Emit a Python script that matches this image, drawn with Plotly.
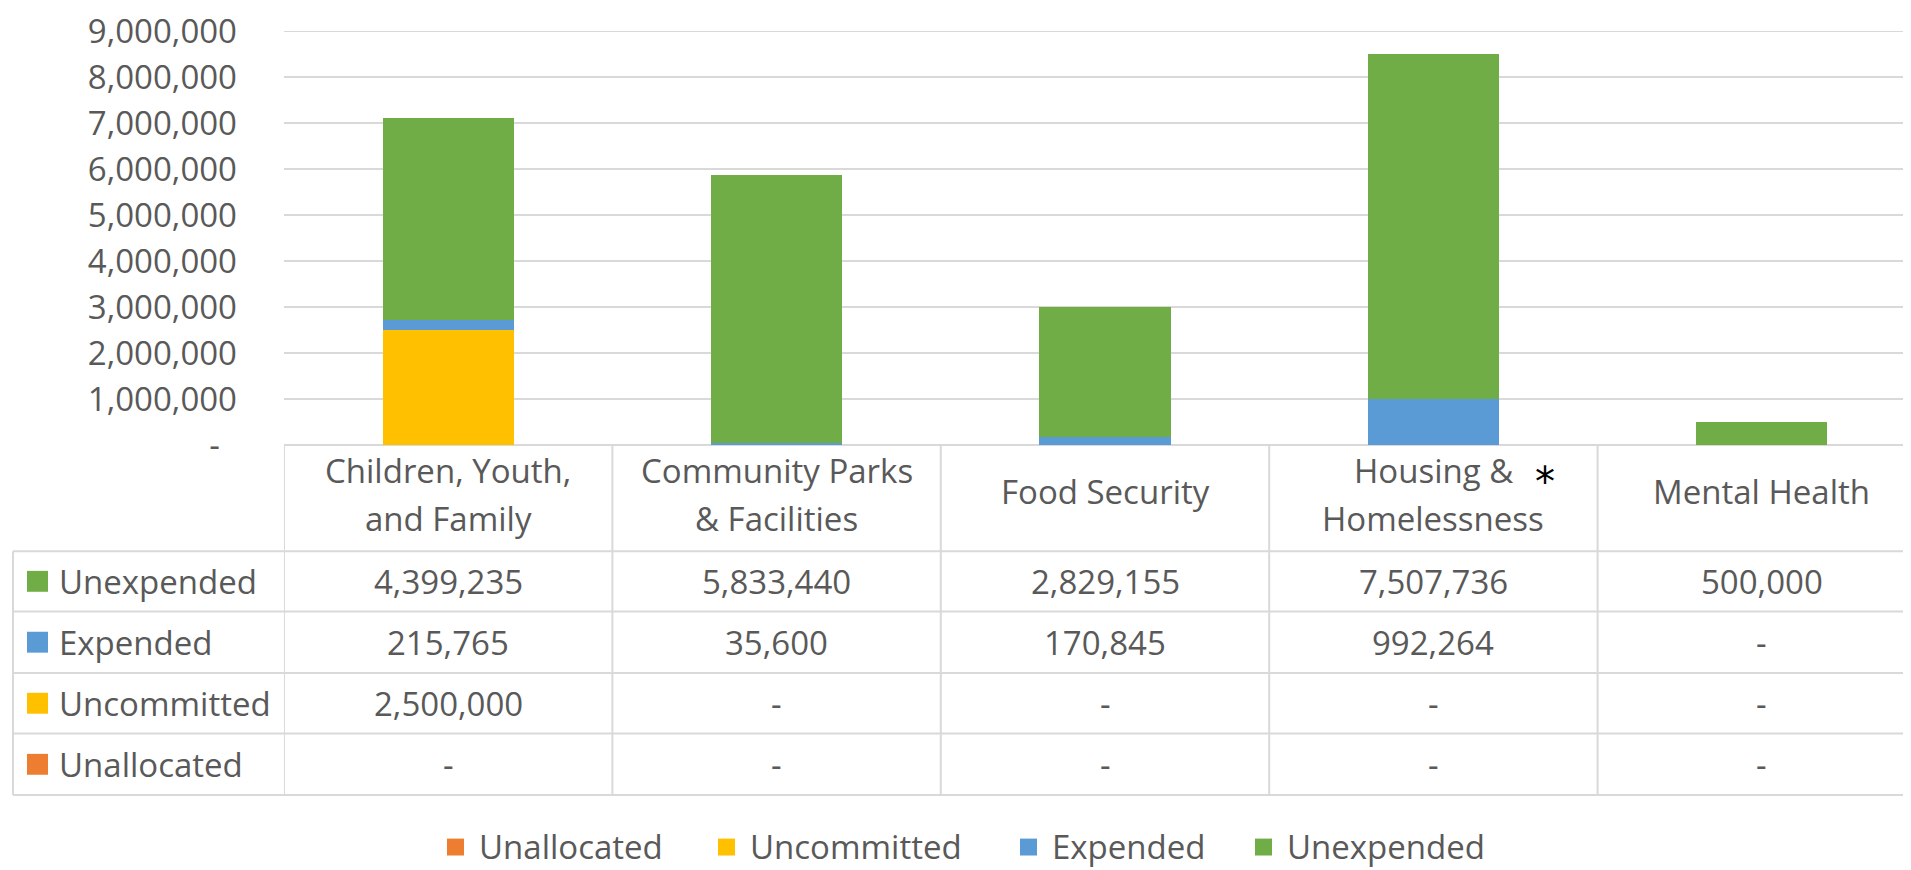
import plotly.graph_objects as go

# ---------------- data ----------------
categories = ["Children, Youth,<br>and Family", "Community Parks<br>& Facilities",
              "Food Security", "Housing &<br>Homelessness", "Mental Health"]
series_names = ["Unallocated", "Uncommitted", "Expended", "Unexpended"]
unallocated = [0, 0, 0, 0, 0]
uncommitted = [2500000, 0, 0, 0, 0]
expended = [215765, 35600, 170845, 992264, 0]
unexpended = [4399235, 5833440, 2829155, 7507736, 500000]
y_tickvals = [0, 1000000, 2000000, 3000000, 4000000, 5000000, 6000000, 7000000, 8000000, 9000000]
y_ticktext = ["-\u00a0\u00a0", "1,000,000", "2,000,000", "3,000,000", "4,000,000",
              "5,000,000", "6,000,000", "7,000,000", "8,000,000", "9,000,000"]

series_values = [unallocated, uncommitted, expended, unexpended]
colors = ["#ED7D31", "#FFC000", "#5B9BD5", "#70AD47"]

# ---------------- layout geometry (reference pixels) ----------------
OFF = 8                      # default page body margin
W, H = 1911, 870             # window
FW, FH = W - OFF, H - OFF    # figure size
L, R, T, B = 284, 1911, 29, 445
Y_MAX = 9000000
FONT = "Open Sans"
TXT = "#595959"
GRID = "#D9D9D9"
FS = 33

def px(x):
    return (x - L) / (R - L)

def py(y):
    return (B - y) / (B - T)

x_idx = list(range(len(categories)))

fig = go.Figure()
for name, vals, col in zip(series_names, series_values, colors):
    fig.add_trace(go.Bar(x=x_idx, y=vals, name=name, marker=dict(color=col, line=dict(width=0)),
                         width=0.4, showlegend=False))

fig.update_layout(
    barmode="stack",
    width=FW, height=FH,
    margin=dict(l=L - OFF, r=FW - (R - OFF), t=T - OFF, b=FH - (B - OFF), pad=0),
    paper_bgcolor="white", plot_bgcolor="white",
    font=dict(family=FONT, color=TXT, size=FS),
)
fig.update_xaxes(range=[-0.5, -0.5 + (R - L) / 328.4], showticklabels=False, showgrid=False,
                 zeroline=False, showline=False, ticks="")
fig.update_yaxes(range=[0, Y_MAX], tickvals=y_tickvals, ticktext=y_ticktext,
                 showgrid=True, gridcolor=GRID, gridwidth=2, zeroline=True, zerolinecolor=GRID,
                 zerolinewidth=2, showline=False, ticks="", ticklabelstandoff=46,
                 ticklabeloverflow="allow",
                 tickfont=dict(family=FONT, size=FS, color=TXT))

shapes = []
annotations = []
line = dict(color=GRID, width=2)

# top gridline kept visible even at the range edge
shapes.append(dict(type="line", xref="paper", yref="y", x0=0, x1=1, y0=y_tickvals[-1],
                   y1=y_tickvals[-1], line=line, layer="below"))

# table geometry
header_top = B
row_lines = [551.7, 612.3, 674.0, 735.0, 796.7]
table_left = 13

for yv in row_lines:
    shapes.append(dict(type="line", xref="paper", yref="paper", x0=px(table_left), x1=1.02,
                       y0=py(yv), y1=py(yv), line=line))
for i in range(-1, len(categories)):
    shapes.append(dict(type="line", xref="x", yref="paper", x0=i + 0.5, x1=i + 0.5,
                       y0=py(header_top), y1=py(row_lines[-1]), line=line))
shapes.append(dict(type="line", xref="paper", yref="paper", x0=px(table_left), x1=px(table_left),
                   y0=py(row_lines[0]), y1=py(row_lines[-1]), line=line))

# header text
for i, cat in enumerate(categories):
    parts = cat.split("<br>")
    ys = [471, 519] if len(parts) == 2 else [492]
    for part, yv in zip(parts, ys):
        annotations.append(dict(x=i, y=py(yv), xref="x", yref="paper", text=part, showarrow=False,
                                xanchor="center", yanchor="middle",
                                font=dict(family=FONT, size=FS, color=TXT)))
# asterisk next to Housing
annotations.append(dict(x=px(1545), y=py(482), xref="paper", yref="paper", text="*", showarrow=False,
                        xanchor="center", yanchor="middle",
                        font=dict(family="DejaVu Sans", size=40, color="black")))

# table rows (reverse of stacking order)
table_rows = list(zip(series_names, series_values, colors))[::-1]
for r, (name, vals, col) in enumerate(table_rows):
    yc = (row_lines[r] + row_lines[r + 1]) / 2
    shapes.append(dict(type="rect", xref="paper", yref="paper", x0=px(27), x1=px(48),
                       y0=py(yc - 10.5), y1=py(yc + 10.5), fillcolor=col, line=dict(width=0)))
    annotations.append(dict(x=px(57), y=py(yc), xref="paper", yref="paper", text=name, showarrow=False,
                            xanchor="left", yanchor="middle",
                            font=dict(family=FONT, size=FS, color=TXT)))
    for i, v in enumerate(vals):
        txt = f"{v:,}" if v else "-"
        annotations.append(dict(x=i, y=py(yc), xref="x", yref="paper", text=txt, showarrow=False,
                                xanchor="center", yanchor="middle",
                                font=dict(family=FONT, size=FS, color=TXT)))

# legend
legend_x = [447, 718, 1020, 1255]
ly = 848
for (name, col), lx in zip(zip(series_names, colors), legend_x):
    shapes.append(dict(type="rect", xref="paper", yref="paper", x0=px(lx), x1=px(lx + 17),
                       y0=py(ly - 7.5), y1=py(ly + 9.5), fillcolor=col, line=dict(width=0)))
    annotations.append(dict(x=px(lx + 30), y=py(ly), xref="paper", yref="paper", text=name,
                            showarrow=False, xanchor="left", yanchor="middle",
                            font=dict(family=FONT, size=FS, color=TXT)))

fig.update_layout(shapes=shapes, annotations=annotations)
fig.write_html("out.html")
